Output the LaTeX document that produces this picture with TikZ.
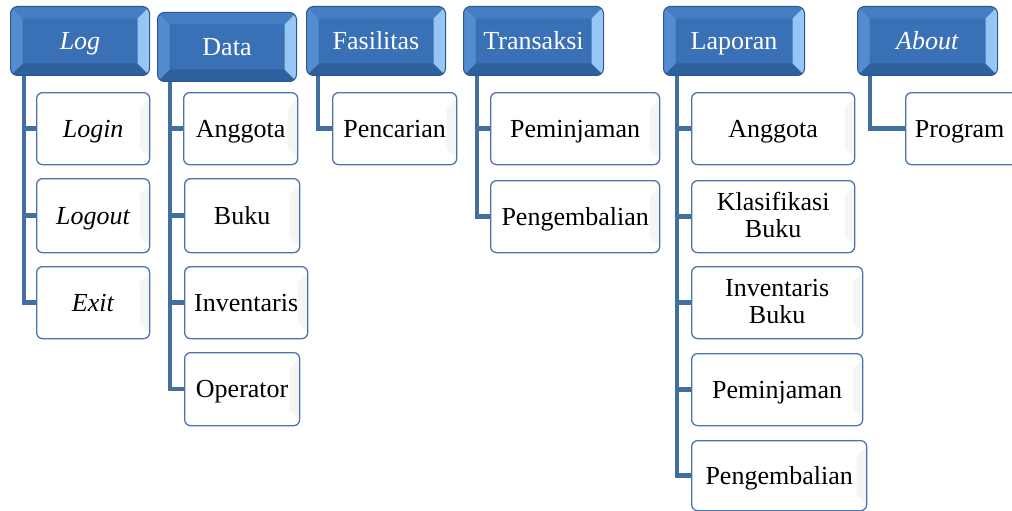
\documentclass[tikz,border=0pt]{standalone}
\usepackage{fontspec}
\setmainfont{Liberation Serif}
\definecolor{tbFill}{RGB}{58,113,182}
\definecolor{tbBorder}{RGB}{44,88,146}
\definecolor{tbLeft}{RGB}{84,140,208}
\definecolor{tbRight}{RGB}{150,198,244}
\definecolor{tbTop}{RGB}{70,126,196}
\definecolor{tbBottom}{RGB}{46,96,158}
\definecolor{sbBorder}{RGB}{74,116,176}
\definecolor{connC}{RGB}{66,110,160}
\newcommand{\fsz}{\fontsize{26}{27}\selectfont}
\tikzset{
  topbox/.style={draw=tbBorder, line width=1pt, fill=tbFill, rounded corners=7pt,
    text=white, minimum width=139pt, minimum height=69pt, anchor=north west,
    inner sep=0pt, font=\fsz, align=center, text height=18pt, text depth=1pt,
    path picture={
      \fill[tbTop,sharp corners] (path picture bounding box.north west) -- ([shift={(12pt,-12pt)}]path picture bounding box.north west) -- ([shift={(-12pt,-12pt)}]path picture bounding box.north east) -- (path picture bounding box.north east) -- cycle;
      \fill[tbBottom,sharp corners] (path picture bounding box.south west) -- ([shift={(12pt,12pt)}]path picture bounding box.south west) -- ([shift={(-12pt,12pt)}]path picture bounding box.south east) -- (path picture bounding box.south east) -- cycle;
      \fill[tbLeft,sharp corners] (path picture bounding box.north west) -- ([shift={(12pt,-12pt)}]path picture bounding box.north west) -- ([shift={(12pt,12pt)}]path picture bounding box.south west) -- (path picture bounding box.south west) -- cycle;
      \fill[tbRight,sharp corners] (path picture bounding box.north east) -- ([shift={(-12pt,-12pt)}]path picture bounding box.north east) -- ([shift={(-12pt,12pt)}]path picture bounding box.south east) -- (path picture bounding box.south east) -- cycle;
    }},
  subbox/.style={draw=sbBorder, line width=1.3pt, fill=white, rounded corners=6pt,
    anchor=north west, minimum height=72pt, inner sep=0pt, font=\fsz, align=center,
    text height=18pt, text depth=1pt,
    path picture={
      \fill[black!4,sharp corners] ([shift={(0pt,-6pt)}]path picture bounding box.north east) -- ([shift={(-10pt,-16pt)}]path picture bounding box.north east) -- ([shift={(-10pt,16pt)}]path picture bounding box.south east) -- ([shift={(0pt,6pt)}]path picture bounding box.south east) -- cycle;
    }},
  twoline/.style={text height=43pt, text depth=1pt},
  conn/.style={draw=connC, line width=4.5pt}
}
\begin{document}
\begin{tikzpicture}[x=1pt,y=-1pt]
\useasboundingbox (0,0) rectangle (1012,511);
\clip (0,0) rectangle (1012,511);
% top level
\node[topbox] (log) at (10,6) {\textit{Log}};
\node[topbox] (data) at (157,12) {Data};
\node[topbox] (fas) at (306,6) {Fasilitas};
\node[topbox, minimum width=140pt] (trx) at (463,6) {Transaksi};
\node[topbox, minimum width=141pt] (lap) at (663,6) {Laporan};
\node[topbox, minimum width=140pt] (abt) at (857,6) {\textit{About}};
% Log children
\node[subbox, minimum width=113pt] (login) at (36,92) {\textit{Login}};
\node[subbox, minimum width=113pt, minimum height=74pt] (logout) at (36,178) {\textit{Logout}};
\node[subbox, minimum width=113pt] (exit) at (36,266) {\textit{Exit}};
% Data children
\node[subbox, minimum width=114pt] (danggota) at (183,92) {Anggota};
\node[subbox, minimum width=115pt, minimum height=74pt] (dbuku) at (184,178) {Buku};
\node[subbox, minimum width=123pt] (dinv) at (184,266) {Inventaris};
\node[subbox, minimum width=115pt, minimum height=73pt] (dop) at (184,352) {Operator};
% Fasilitas
\node[subbox, minimum width=124pt] (cari) at (332,92) {Pencarian};
% Transaksi
\node[subbox, minimum width=169pt] (tpinjam) at (490,92) {Peminjaman};
\node[subbox, minimum width=169pt] (tkembali) at (490,180) {Pengembalian};
% Laporan
\node[subbox, minimum width=163pt] (lang) at (691,92) {Anggota};
\node[subbox, twoline, minimum width=163pt] (lklas) at (691,180) {Klasifikasi\\Buku};
\node[subbox, twoline, minimum width=171pt] (linv) at (691,266) {Inventaris\\Buku};
\node[subbox, minimum width=171pt] (lpinjam) at (691,353) {Peminjaman};
\node[subbox, minimum width=175pt, minimum height=70pt] (lkembali) at (691,440) {Pengembalian};
% About
\node[subbox, minimum width=122pt] (prog) at (905,92) {Program\hspace*{14pt}};
% connectors
\coordinate (logx) at ([xshift=14pt]log.south west);
\draw[conn] (logx) |- (exit.west);
\draw[conn] (logx |- login.west) -- (login.west);
\draw[conn] (logx |- logout.west) -- (logout.west);
\coordinate (datax) at ([xshift=13pt]data.south west);
\draw[conn] (datax) |- (dop.west);
\draw[conn] (datax |- danggota.west) -- (danggota.west);
\draw[conn] (datax |- dbuku.west) -- (dbuku.west);
\draw[conn] (datax |- dinv.west) -- (dinv.west);
\coordinate (fasx) at ([xshift=12pt]fas.south west);
\draw[conn] (fasx) |- (cari.west);
\coordinate (trxx) at ([xshift=14pt]trx.south west);
\draw[conn] (trxx) |- (tkembali.west);
\draw[conn] (trxx |- tpinjam.west) -- (tpinjam.west);
\coordinate (lapx) at ([xshift=14pt]lap.south west);
\draw[conn] (lapx) |- (lkembali.west);
\draw[conn] (lapx |- lang.west) -- (lang.west);
\draw[conn] (lapx |- lklas.west) -- (lklas.west);
\draw[conn] (lapx |- linv.west) -- (linv.west);
\draw[conn] (lapx |- lpinjam.west) -- (lpinjam.west);
\coordinate (abtx) at ([xshift=13pt]abt.south west);
\draw[conn] (abtx) |- (prog.west);
\end{tikzpicture}
\end{document}
